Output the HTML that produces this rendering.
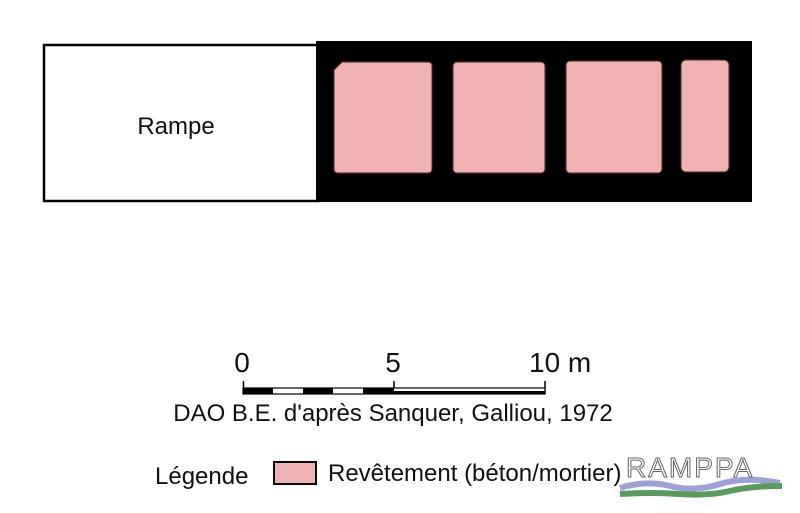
<!DOCTYPE html>
<html><head><meta charset="utf-8"><style>
html,body{margin:0;padding:0;background:#fff}
svg{display:block}
text{font-family:"Liberation Sans",Arial,sans-serif;fill:#111}
</style></head><body>
<svg width="800" height="513" viewBox="0 0 800 513" xmlns="http://www.w3.org/2000/svg">
<rect x="44" y="45" width="274" height="156" fill="#fff" stroke="#000" stroke-width="2.5"/>
<rect x="316" y="41" width="436" height="161" fill="#000"/>
<text x="176" y="134" font-size="24" text-anchor="middle">Rampe</text>
<g fill="#efb1b1" stroke="#5a2a2a" stroke-width="1">
<path d="M342 62 H428 Q432 62 432 66 V169 Q432 173 428 173 H338 Q334 173 334 169 V70 Z"/>
<rect x="453" y="62" width="92" height="111" rx="4"/>
<rect x="566" y="61" width="96" height="112" rx="4"/>
<rect x="681" y="60" width="48" height="112" rx="5"/>
</g>
<text x="242" y="372" font-size="28" text-anchor="middle">0</text>
<text x="393" y="372" font-size="28" text-anchor="middle">5</text>
<text x="529" y="372" font-size="28">10 m</text>
<g stroke="#000" stroke-width="1.5">
<line x1="243.5" y1="381" x2="243.5" y2="394"/>
<line x1="394" y1="381" x2="394" y2="394"/>
<line x1="545" y1="381" x2="545" y2="394"/>
</g>
<rect x="243" y="388" width="302" height="6" fill="#fff" stroke="#000" stroke-width="1.2"/>
<rect x="243" y="388" width="30" height="6" fill="#000"/>
<rect x="303" y="388" width="30" height="6" fill="#000"/>
<rect x="363" y="388" width="31" height="6" fill="#000"/>
<rect x="394" y="391" width="151" height="3" fill="#000"/>
<text x="393" y="421" font-size="24" text-anchor="middle">DAO B.E. d'après Sanquer, Galliou, 1972</text>
<text x="155" y="484" font-size="24">Légende</text>
<rect x="274" y="462" width="42" height="22" fill="#efb1b1" stroke="#000" stroke-width="2"/>
<text x="328" y="481" font-size="24">Revêtement (béton/mortier)</text>
<path d="M620 488 Q645 480 670 486 T720 484 T780 483" stroke="#a0a0d8" stroke-width="6" fill="none"/>
<path d="M620 494 Q650 492 680 494 T730 491 T782 486" stroke="#5a9a5a" stroke-width="6" fill="none"/>
<text x="626" y="477" font-size="28" fill="#fff" stroke="#666" stroke-width="1" letter-spacing="2" style="fill:#fff">RAMPPA</text>
</svg>
</body></html>
